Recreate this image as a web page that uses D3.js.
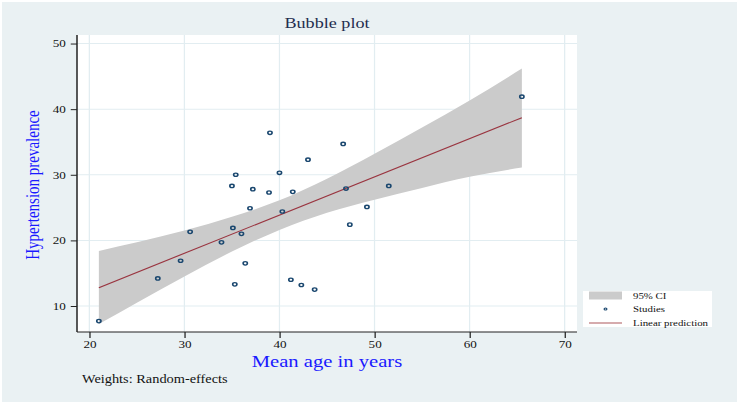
<!DOCTYPE html>
<html>
<head>
<meta charset="utf-8">
<script src="https://cdn.jsdelivr.net/npm/d3@7"></script>
<style>
html,body{margin:0;padding:0;background:#ffffff;}
svg{display:block;}
</style>
</head>
<body>
<div id="chart"></div>
<script>
// ---- data ----
const ages = [21.0, 27.2, 29.6, 30.6, 33.9, 35.1, 36.0, 35.0, 35.4, 36.4, 35.3, 36.9, 37.2, 38.9, 39.0, 40.0, 40.3, 41.4, 41.2, 42.3, 43.0, 43.7, 46.7, 47.0, 47.4, 49.2, 51.5, 65.5];
const prevalence = [7.7, 14.2, 16.9, 21.3, 19.7, 21.9, 21.0, 28.3, 30.0, 16.5, 13.3, 24.9, 27.8, 27.3, 36.4, 30.3, 24.4, 27.4, 14.0, 13.2, 32.3, 12.5, 34.7, 27.9, 22.4, 25.1, 28.3, 41.9];
const fitX = [21, 65.5];
const fitY = [12.8, 38.7];
const ciX = [21, 25, 30, 35, 40, 45, 50, 55, 60, 65.5];
const ciUpper = [18.4, 19.7, 21.5, 23.6, 26.1, 29.4, 33.2, 37.2, 41.3, 46.2];
const ciLower = [7.25, 10.5, 14.5, 18.3, 21.6, 24.2, 26.2, 28.0, 29.7, 31.1];
const xTicks = [20, 30, 40, 50, 60, 70];
const yTicks = [10, 20, 30, 40, 50];
const legendLabels = ["95% CI", "Studies", "Linear prediction"];

// ---- layout (inner coordinate system stretched horizontally) ----
const W = 739, H = 404, SX = 1.25;
const IW = W / SX;
const plot = {left: 77 / SX, right: 577 / SX, top: 35, bottom: 332};
const serif = "'Liberation Serif','Times New Roman',serif";

const svg = d3.select("#chart").append("svg")
  .attr("width", W).attr("height", H)
  .attr("viewBox", `0 0 ${IW} ${H}`)
  .attr("preserveAspectRatio", "none");

// graph region background
svg.append("rect").attr("x", 2 / SX).attr("y", 2)
  .attr("width", (737 - 2) / SX).attr("height", 400)
  .attr("fill", "#eaf1f3");
// plot region
svg.append("rect").attr("x", plot.left).attr("y", plot.top)
  .attr("width", plot.right - plot.left).attr("height", plot.bottom - plot.top)
  .attr("fill", "#ffffff");

const x = d3.scaleLinear().domain([18.7, 71.3]).range([plot.left, plot.right]);
const y = d3.scaleLinear().domain([6.04, 51.3]).range([plot.bottom, plot.top]);

// grid
const grid = svg.append("g").attr("stroke", "#e2edf1").attr("stroke-width", 1);
grid.selectAll(".gx").data(xTicks).join("line")
  .attr("x1", d => x(d)).attr("x2", d => x(d))
  .attr("y1", plot.top).attr("y2", plot.bottom);
grid.selectAll(".gy").data(yTicks).join("line")
  .attr("y1", d => y(d)).attr("y2", d => y(d))
  .attr("x1", plot.left).attr("x2", plot.right);

// CI band
const band = ciX.map((v, i) => ({x: v, lo: ciLower[i], hi: ciUpper[i]}));
svg.append("path").datum(band)
  .attr("fill", "#cbcbcb")
  .attr("d", d3.area().x(d => x(d.x)).y0(d => y(d.lo)).y1(d => y(d.hi)).curve(d3.curveMonotoneX));

// fitted line
svg.append("path").datum(fitX.map((v, i) => [v, fitY[i]]))
  .attr("fill", "none").attr("stroke", "#9a3540").attr("stroke-width", 1.1)
  .attr("d", d3.line().x(d => x(d[0])).y(d => y(d[1])));

// studies
svg.append("g").selectAll("circle").data(ages.map((a, i) => [a, prevalence[i]]))
  .join("circle")
  .attr("cx", d => x(d[0])).attr("cy", d => y(d[1])).attr("r", 1.7)
  .attr("fill", "none").attr("stroke", "#1a476f").attr("stroke-width", 1.3);

// axes
const xAxis = svg.append("g").attr("transform", `translate(0,${plot.bottom})`)
  .call(d3.axisBottom(x).tickValues(xTicks).tickSize(6).tickPadding(3).tickSizeOuter(0));
const yAxis = svg.append("g").attr("transform", `translate(${plot.left},0)`)
  .call(d3.axisLeft(y).tickValues(yTicks).tickSize(5).tickPadding(4).tickSizeOuter(0));
[xAxis, yAxis].forEach(g => {
  g.select(".domain").attr("stroke", "#222").attr("stroke-width", 1.2);
  g.selectAll(".tick line").attr("stroke", "#222").attr("stroke-width", 1);
  g.selectAll(".tick text").attr("font-family", serif).attr("font-size", 10.5).attr("fill", "#111");
});
xAxis.select(".domain").attr("d", `M${plot.left},0H${plot.right}`);
yAxis.select(".domain").attr("d", `M0,${plot.bottom}V${plot.top}`);

// titles
svg.append("text").attr("x", (plot.left + plot.right) / 2).attr("y", 28)
  .attr("text-anchor", "middle").attr("font-family", serif).attr("font-size", 14.5)
  .attr("fill", "#1f2d4f").text("Bubble plot");
svg.append("text").attr("x", (plot.left + plot.right) / 2).attr("y", 367)
  .attr("text-anchor", "middle").attr("font-family", serif).attr("font-size", 16.5)
  .attr("fill", "#1a1aff").text("Mean age in years");
svg.append("text").attr("transform", `translate(${39 / SX},185) rotate(-90)`)
  .attr("text-anchor", "middle").attr("font-family", serif).attr("font-size", 15)
  .attr("fill", "#1a1aff").text("Hypertension prevalence");
svg.append("text").attr("x", 82 / SX).attr("y", 383)
  .attr("font-family", serif).attr("font-size", 11.5).attr("fill", "#111")
  .text("Weights: Random-effects");

// legend
const lg = svg.append("g");
lg.append("rect").attr("x", 583 / SX).attr("y", 291)
  .attr("width", (712 - 583) / SX).attr("height", 36).attr("fill", "#ffffff");
lg.append("rect").attr("x", 589 / SX).attr("y", 291.5)
  .attr("width", 33 / SX).attr("height", 8).attr("fill", "#cbcbcb");
lg.append("circle").attr("cx", 605.5 / SX).attr("cy", 309).attr("r", 1.1)
  .attr("fill", "#ffffff").attr("stroke", "#1a476f").attr("stroke-width", 1);
lg.append("line").attr("x1", 589 / SX).attr("x2", 622 / SX).attr("y1", 323).attr("y2", 323)
  .attr("stroke", "#c98f92").attr("stroke-width", 1.5);
const lgY = [299, 312.3, 326];
lg.selectAll("text.lbl").data(legendLabels).join("text")
  .attr("class", "lbl")
  .attr("x", 633 / SX).attr("y", (d, i) => lgY[i])
  .attr("font-family", serif).attr("font-size", 8.7).attr("fill", "#111")
  .text(d => d);
</script>
</body>
</html>
